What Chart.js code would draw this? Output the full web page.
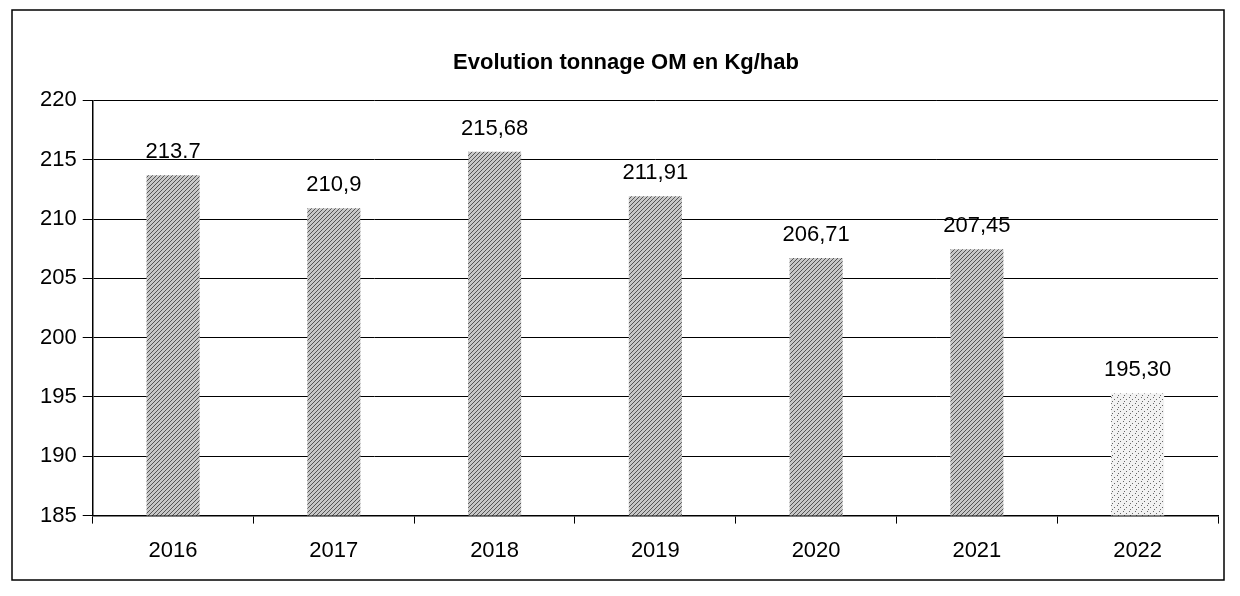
<!DOCTYPE html>
<html lang="fr">
<head>
<meta charset="UTF-8">
<title>Evolution tonnage OM en Kg/hab</title>
<script src="https://cdn.jsdelivr.net/npm/chart.js"></script>
<style>
  html, body { margin: 0; padding: 0; background: #fff; }
  #wrap { width: 1240px; height: 596px; }
</style>
</head>
<body>
<div id="wrap"><canvas id="omChart" width="1240" height="596"></canvas></div>
<script>
// données
const annees = ['2016', '2017', '2018', '2019', '2020', '2021', '2022'];
const kgParHab = [213.7, 210.9, 215.68, 211.91, 206.71, 207.45, 195.30];
const etiquettes = ['213.7', '210,9', '215,68', '211,91', '206,71', '207,45', '195,30'];
const graduations = [185, 190, 195, 200, 205, 210, 215, 220];

// motif hachuré pour les barres
function hachures() {
    const c = document.createElement('canvas');
    c.width = 4; c.height = 4;
    const g = c.getContext('2d');
    g.fillStyle = '#c8c8c8';
    g.fillRect(0, 0, 4, 4);
    g.strokeStyle = '#555';
    g.lineWidth = 1;
    g.beginPath();
    g.moveTo(0, 4); g.lineTo(4, 0);
    g.stroke();
    return g.createPattern(c, 'repeat');
}

// motif pointillé pour 2022
function points() {
    const c = document.createElement('canvas');
    c.width = 6; c.height = 6;
    const g = c.getContext('2d');
    g.fillStyle = '#f2f2f2';
    g.fillRect(0, 0, 6, 6);
    g.fillStyle = '#666';
    g.fillRect(1, 1, 1, 1);
    g.fillRect(4, 3, 1, 1);
    g.fillRect(2, 5, 1, 1);
    return g.createPattern(c, 'repeat');
}

const motifs = kgParHab.map((v, i) => i === kgParHab.length - 1 ? points() : hachures());

const cadre = {
    id: 'cadre',
    beforeDraw(chart) {
        const ctx = chart.ctx;
        ctx.save();
        ctx.fillStyle = '#fff';
        ctx.fillRect(0, 0, chart.width, chart.height);
        ctx.strokeStyle = '#000';
        ctx.lineWidth = 1.5;
        ctx.strokeRect(12, 10, 1212, 570);
        ctx.restore();
    }
};

const valeurs = {
    id: 'valeurs',
    afterDatasetsDraw(chart) {
        const ctx = chart.ctx;
        const meta = chart.getDatasetMeta(0);
        ctx.save();
        ctx.fillStyle = '#000';
        ctx.font = '22px "Liberation Sans", Arial, sans-serif';
        ctx.textAlign = 'center';
        ctx.textBaseline = 'bottom';
        meta.data.forEach((bar, i) => {
            ctx.fillText(etiquettes[i], bar.x, bar.y - 12);
        });
        ctx.restore();
    }
};

const ctx = document.getElementById('omChart').getContext('2d');
new Chart(ctx, {
    type: 'bar',
    data: {
        labels: annees,
        datasets: [{
            data: kgParHab,
            backgroundColor: motifs,
            borderWidth: 0,
            barPercentage: 0.33,
            categoryPercentage: 1
        }]
    },
    options: {
        responsive: false,
        animation: false,
        layout: { padding: { left: 34, right: 22, top: 30, bottom: 18 } },
        plugins: {
            legend: { display: false },
            tooltip: { enabled: false },
            title: {
                display: true,
                text: 'Evolution tonnage OM en Kg/hab',
                color: '#000',
                font: { family: '"Liberation Sans", Arial, sans-serif', size: 22, weight: 'bold' },
                padding: { top: 20, bottom: 24 }
            }
        },
        scales: {
            y: {
                min: 185,
                max: 220,
                afterBuildTicks(axis) {
                    axis.ticks = graduations.map(v => ({ value: v }));
                },
                border: { color: '#000', width: 1.5 },
                grid: { color: '#000', lineWidth: 1, tickLength: 10 },
                ticks: {
                    color: '#000',
                    padding: 6,
                    font: { family: '"Liberation Sans", Arial, sans-serif', size: 22 }
                }
            },
            x: {
                border: { color: '#000', width: 1.5 },
                grid: { drawOnChartArea: false, color: '#000', tickLength: 8 },
                ticks: {
                    color: '#000',
                    padding: 14,
                    font: { family: '"Liberation Sans", Arial, sans-serif', size: 22 }
                }
            }
        }
    },
    plugins: [cadre, valeurs]
});
</script>
</body>
</html>
